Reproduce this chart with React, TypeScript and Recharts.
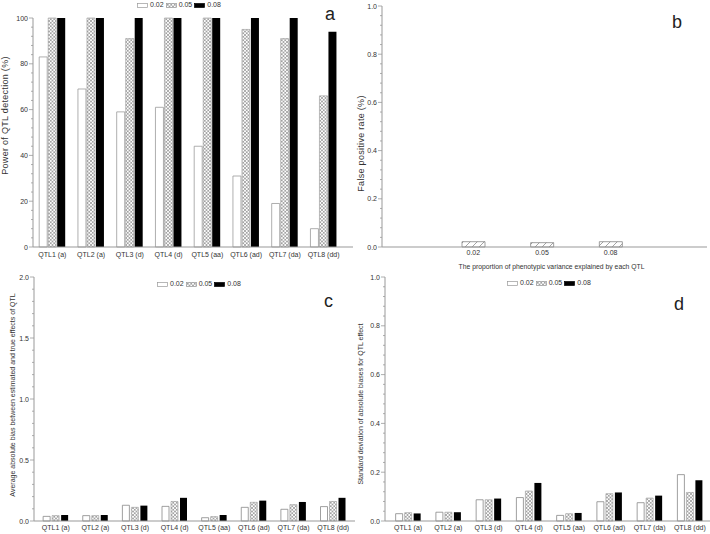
import React from 'react'
import { BarChart, Bar, XAxis, YAxis, Label } from 'recharts'

// categories
const qtlLabels = ['QTL1 (a)', 'QTL2 (a)', 'QTL3 (d)', 'QTL4 (d)', 'QTL5 (aa)', 'QTL6 (ad)', 'QTL7 (da)', 'QTL8 (dd)']
const h2Labels = ['0.02', '0.05', '0.08']

// panel a: power of QTL detection (%)
const power02 = [83, 69, 59, 61, 44, 31, 19, 8]
const power05 = [100, 100, 91, 100, 100, 95, 91, 66]
const power08 = [100, 100, 100, 100, 100, 100, 100, 94]

// panel b: false positive rate
const falsePos = [0.022, 0.018, 0.022]

// panel c: average absolute bias
const bias02 = [0.038, 0.044, 0.129, 0.12, 0.027, 0.112, 0.096, 0.118]
const bias05 = [0.044, 0.044, 0.112, 0.16, 0.036, 0.153, 0.134, 0.16]
const bias08 = [0.049, 0.049, 0.126, 0.19, 0.049, 0.167, 0.156, 0.19]

// panel d: sd of absolute biases
const sd02 = [0.03, 0.036, 0.087, 0.096, 0.023, 0.079, 0.075, 0.19]
const sd05 = [0.034, 0.036, 0.087, 0.123, 0.03, 0.112, 0.094, 0.117]
const sd08 = [0.031, 0.036, 0.092, 0.156, 0.033, 0.117, 0.104, 0.167]

// axis ticks (major + minor)
const powerMajor = [0, 20, 40, 60, 80, 100]
const powerTicks = [0, 4, 8, 12, 16, 20, 24, 28, 32, 36, 40, 44, 48, 52, 56, 60, 64, 68, 72, 76, 80, 84, 88, 92, 96, 100]
const unitMajor = [0, 0.2, 0.4, 0.6, 0.8, 1.0]
const unitTicks = [0, 0.04, 0.08, 0.12, 0.16, 0.2, 0.24, 0.28, 0.32, 0.36, 0.4, 0.44, 0.48, 0.52, 0.56, 0.6, 0.64, 0.68, 0.72, 0.76, 0.8, 0.84, 0.88, 0.92, 0.96, 1.0]
const biasMajor = [0, 0.5, 1.0, 1.5, 2.0]
const biasTicks = [0, 0.1, 0.2, 0.3, 0.4, 0.5, 0.6, 0.7, 0.8, 0.9, 1.0, 1.1, 1.2, 1.3, 1.4, 1.5, 1.6, 1.7, 1.8, 1.9, 2.0]

const powerRows = qtlLabels.map((q, i) => ({ qtl: q, s02: power02[i], s05: power05[i], s08: power08[i] }))
const falseRows = h2Labels.map((h, i) => ({ h, rate: falsePos[i] }))
const biasRows = qtlLabels.map((q, i) => ({ qtl: q, s02: bias02[i], s05: bias05[i], s08: bias08[i] }))
const sdRows = qtlLabels.map((q, i) => ({ qtl: q, s02: sd02[i], s05: sd05[i], s08: sd08[i] }))

const FONT = '"Liberation Sans", Arial, sans-serif'
const AXIS = '#999'
const TEXT = '#333'

function Patterns({ id }: { id: string }) {
  return (
    <defs>
      <pattern id={`${id}-x`} width={3.5} height={3.5} patternUnits="userSpaceOnUse">
        <rect width={3.5} height={3.5} fill="#fff" />
        <path d="M0,0 L3.5,3.5 M3.5,0 L0,3.5" stroke="#8a8a8a" strokeWidth={0.7} />
      </pattern>
      <pattern id={`${id}-d`} width={7} height={7} patternUnits="userSpaceOnUse">
        <rect width={7} height={7} fill="#fff" />
        <path d="M0,7 L7,0 M-1,1 L1,-1 M6,8 L8,6" stroke="#666" strokeWidth={0.6} />
      </pattern>
    </defs>
  )
}

const makeYTick = (majors: number[], digits: number) => (props: any) => {
  const { x, y, payload } = props
  const v = payload.value
  const major = majors.some((m) => Math.abs(m - v) < 1e-9)
  return (
    <g>
      <line x1={x} x2={x - (major ? 4 : 2)} y1={y} y2={y} stroke={AXIS} strokeWidth={0.8} />
      {major && (
        <text x={x - 5} y={y} dy={2.5} textAnchor="end" fontSize={7} fill={TEXT} fontFamily={FONT}>
          {v.toFixed(digits)}
        </text>
      )}
    </g>
  )
}

function MiniLegend({ id, left, top }: { id: string; left: number; top: number }) {
  const fills = ['#fff', `url(#${id}-x)`, '#000']
  const strokes = ['#999', '#999', '#000']
  return (
    <div style={{ position: 'absolute', left, top, display: 'flex', alignItems: 'center', fontFamily: FONT, fontSize: 7, color: TEXT, lineHeight: '8px' }}>
      {h2Labels.map((s, i) => (
        <React.Fragment key={s}>
          <svg width={11} height={5} style={{ marginRight: 2 }}>
            <rect x={0.5} y={0.5} width={10} height={4} fill={fills[i]} stroke={strokes[i]} strokeWidth={0.7} />
          </svg>
          <span style={{ marginRight: 2 }}>{s}</span>
        </React.Fragment>
      ))}
    </div>
  )
}

function PanelLetter({ text, left, top }: { text: string; left: number; top: number }) {
  return (
    <div style={{ position: 'absolute', left, top, fontFamily: FONT, fontSize: 18, lineHeight: '18px', color: '#222' }}>{text}</div>
  )
}

const yLabelStyle = { textAnchor: 'middle' as const, fontSize: 9, fill: TEXT, fontFamily: FONT, letterSpacing: 0.3 }

function PanelA() {
  return (
    <BarChart width={355} height={267} data={powerRows} margin={{ top: 18, right: 2, bottom: 0, left: 0 }} barGap={1} barCategoryGap="16%">
      <Patterns id="pa" />
      <XAxis dataKey="qtl" height={20} interval={0} tickLine={false} tickSize={3} tickMargin={2} padding={{ left: 0, right: 10 }} axisLine={{ stroke: AXIS }} tick={{ fontSize: 7, fill: TEXT, fontFamily: FONT }} />
      <YAxis width={33} domain={[0, 100]} ticks={powerTicks} interval={0} tickLine={false} tickSize={0} tickMargin={0} axisLine={{ stroke: AXIS }} tick={makeYTick(powerMajor, 0)}>
        <Label value="Power of QTL detection (%)" angle={-90} position="insideLeft" offset={5} dy={-17} style={yLabelStyle} />
      </YAxis>
      <Bar dataKey="s02" fill="#fff" stroke="#9a9a9a" strokeWidth={0.8} isAnimationActive={false} />
      <Bar dataKey="s05" fill="url(#pa-x)" stroke="#999" strokeWidth={0.6} isAnimationActive={false} />
      <Bar dataKey="s08" fill="#000" isAnimationActive={false} />
    </BarChart>
  )
}

function PanelB() {
  return (
    <BarChart width={355} height={275} data={falseRows} margin={{ top: 6, right: 3, bottom: 0, left: 0 }}>
      <Patterns id="pb" />
      <XAxis dataKey="h" height={28} interval={0} tickLine={false} tickSize={1} tickMargin={2} padding={{ left: 57, right: 62 }} axisLine={{ stroke: AXIS }} tick={{ fontSize: 7, fill: TEXT, fontFamily: FONT }}>
        <Label value="The proportion of phenotypic variance explained by each QTL" position="insideBottom" offset={6} dx={7} style={{ fontSize: 6.8, fill: TEXT, fontFamily: FONT }} />
      </XAxis>
      <XAxis xAxisId="top" orientation="top" dataKey="h" height={0} tick={false} tickLine={false} axisLine={{ stroke: AXIS }} />
      <YAxis width={27} domain={[0, 1]} ticks={unitTicks} interval={0} tickLine={false} tickSize={0} tickMargin={0} axisLine={{ stroke: AXIS }} tick={makeYTick(unitMajor, 1)}>
        <Label value="False positive rate (%)" angle={-90} position="insideLeft" offset={6} dy={17} style={yLabelStyle} />
      </YAxis>
      <YAxis yAxisId="right" orientation="right" width={0} tick={false} tickLine={false} axisLine={{ stroke: AXIS }} />
      <Bar dataKey="rate" barSize={23} fill="url(#pb-d)" stroke="#777" strokeWidth={0.7} isAnimationActive={false} />
    </BarChart>
  )
}

function PanelC() {
  return (
    <BarChart width={355} height={264} data={biasRows} margin={{ top: 7, right: 0, bottom: 0, left: 0 }} barGap={2} barCategoryGap="18%">
      <Patterns id="pc" />
      <XAxis dataKey="qtl" height={13} interval={0} tickLine={false} tickSize={2} tickMargin={2} padding={{ left: 2, right: 2 }} axisLine={{ stroke: AXIS }} tick={{ fontSize: 7, fill: TEXT, fontFamily: FONT }} />
      <YAxis width={34} domain={[0, 2]} ticks={biasTicks} interval={0} tickLine={false} tickSize={0} tickMargin={0} axisLine={{ stroke: AXIS }} tick={makeYTick(biasMajor, 1)}>
        <Label value="Average absolute bias between estimated and true effects of QTL" angle={-90} position="insideLeft" offset={13} dy={-4} style={{ ...yLabelStyle, fontSize: 7, letterSpacing: 0 }} />
      </YAxis>
      <Bar dataKey="s02" fill="#fff" stroke="#888" strokeWidth={0.8} isAnimationActive={false} />
      <Bar dataKey="s05" fill="url(#pc-x)" stroke="#999" strokeWidth={0.6} isAnimationActive={false} />
      <Bar dataKey="s08" fill="#000" isAnimationActive={false} />
    </BarChart>
  )
}

function PanelD() {
  return (
    <BarChart width={355} height={264} data={sdRows} margin={{ top: 7, right: 0, bottom: 0, left: 0 }} barGap={2} barCategoryGap="19%">
      <Patterns id="pd" />
      <XAxis dataKey="qtl" height={13} interval={0} tickLine={false} tickSize={2} tickMargin={2} padding={{ left: 3, right: 0 }} axisLine={{ stroke: AXIS }} tick={{ fontSize: 7, fill: TEXT, fontFamily: FONT }} />
      <YAxis width={30} domain={[0, 1]} ticks={unitTicks} interval={0} tickLine={false} tickSize={0} tickMargin={0} axisLine={{ stroke: AXIS }} tick={makeYTick(unitMajor, 1)}>
        <Label value="Standard deviation of absolute biases for QTL effect" angle={-90} position="insideLeft" offset={6} dy={5} style={{ ...yLabelStyle, fontSize: 7, letterSpacing: 0 }} />
      </YAxis>
      <Bar dataKey="s02" fill="#fff" stroke="#888" strokeWidth={0.8} isAnimationActive={false} />
      <Bar dataKey="s05" fill="url(#pd-x)" stroke="#999" strokeWidth={0.6} isAnimationActive={false} />
      <Bar dataKey="s08" fill="#000" isAnimationActive={false} />
    </BarChart>
  )
}

export default function App() {
  return (
    <div style={{ position: 'absolute', left: 0, top: 0, width: 710, height: 534, background: '#fff', overflow: 'hidden' }}>
      <div style={{ position: 'absolute', left: 0, top: 0 }}><PanelA /></div>
      <div style={{ position: 'absolute', left: 355, top: 0 }}><PanelB /></div>
      <div style={{ position: 'absolute', left: 0, top: 270 }}><PanelC /></div>
      <div style={{ position: 'absolute', left: 355, top: 270 }}><PanelD /></div>
      <MiniLegend id="pa" left={137} top={1} />
      <MiniLegend id="pc" left={157} top={280} />
      <MiniLegend id="pd" left={507} top={279} />
      <PanelLetter text="a" left={325} top={5} />
      <PanelLetter text="b" left={672} top={13} />
      <PanelLetter text="c" left={324} top={292} />
      <PanelLetter text="d" left={674} top={295} />
    </div>
  )
}
